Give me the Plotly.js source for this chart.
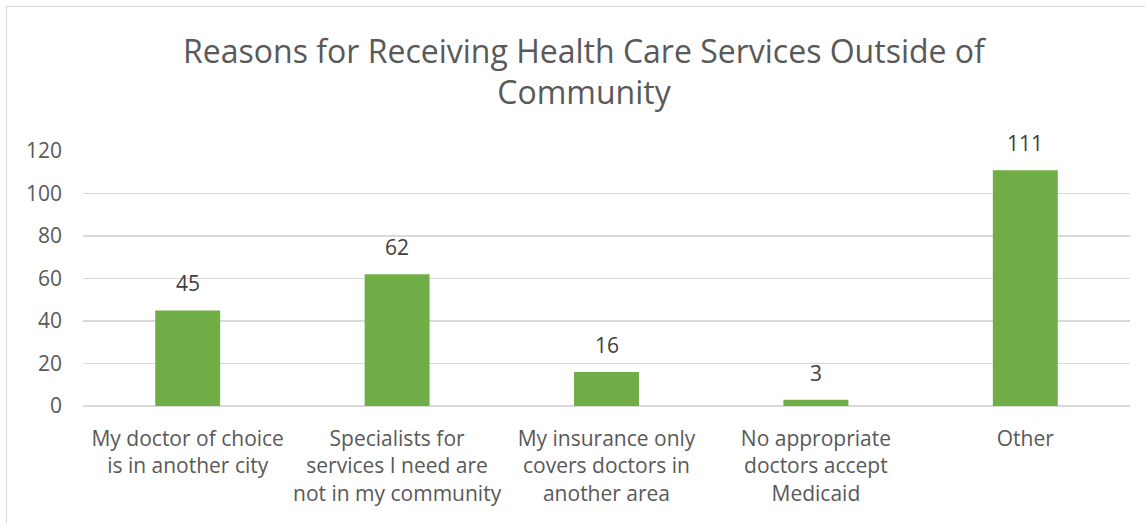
<!DOCTYPE html>
<html>
<head>
<meta charset="utf-8">
<script src="https://cdn.plot.ly/plotly-3.0.1.min.js"></script>
<style>
html,body{margin:0;padding:0;background:#fff;}
#wrap{position:relative;width:1145px;height:523px;overflow:hidden;}
#chart{width:1145px;height:523px;}
#frame{position:absolute;left:6px;top:6px;width:1160px;height:540px;border:1.5px solid #d9d9d9;pointer-events:none;box-sizing:border-box;}
</style>
</head>
<body>
<div id="wrap"><div id="chart"></div><div id="frame"></div></div>
<script>
const categories = [
  "My doctor of choice<br>is in another city",
  "Specialists for<br>services I need are<br>not in my community",
  "My insurance only<br>covers doctors in<br>another area",
  "No appropriate<br>doctors accept<br>Medicaid",
  "Other"
];
const values = [45, 62, 16, 3, 111];
const yTicks = [0, 20, 40, 60, 80, 100, 120];

const FONT = "Open Sans, sans-serif";
const trace = {
  type: "bar",
  x: categories,
  y: values,
  marker: {color: "#70ad47"},
  hoverinfo: "skip"
};
const annotations = categories.map((c, i) => ({
  x: c, y: values[i], text: String(values[i]),
  showarrow: false, yanchor: "bottom", yshift: 11,
  font: {family: FONT, size: 21, color: "#404040"}
}));
const layout = {
  width: 1145, height: 523,
  margin: {l: 83, r: 15, t: 151, b: 117},
  paper_bgcolor: "#ffffff", plot_bgcolor: "#ffffff",
  bargap: 0.69,
  showlegend: false,
  title: {
    text: "Reasons for Receiving Health Care Services Outside of<br>Community",
    x: 0.51, xref: "container", xanchor: "center",
    y: 0.88, yref: "container", yanchor: "middle",
    font: {family: FONT, size: 32, color: "#595959"}
  },
  xaxis: {
    type: "category",
    showgrid: false, zeroline: false,
    showline: false, ticks: "",
    tickfont: {family: FONT, size: 21, color: "#595959"},
    tickangle: 0, automargin: false,
    ticklabelstandoff: 18
  },
  yaxis: {
    range: [0, 120], tickvals: yTicks, ticktext: yTicks.map(String),
    showgrid: true, gridcolor: "#d9d9d9", gridwidth: 1.3,
    zeroline: true, zerolinecolor: "#d9d9d9", zerolinewidth: 1.3,
    showline: false, ticks: "",
    tickfont: {family: FONT, size: 21, color: "#595959"},
    ticklabelstandoff: 20, automargin: false
  },
  annotations: annotations
};
Plotly.newPlot("chart", [trace], layout, {displayModeBar: false, staticPlot: true});
</script>
</body>
</html>
